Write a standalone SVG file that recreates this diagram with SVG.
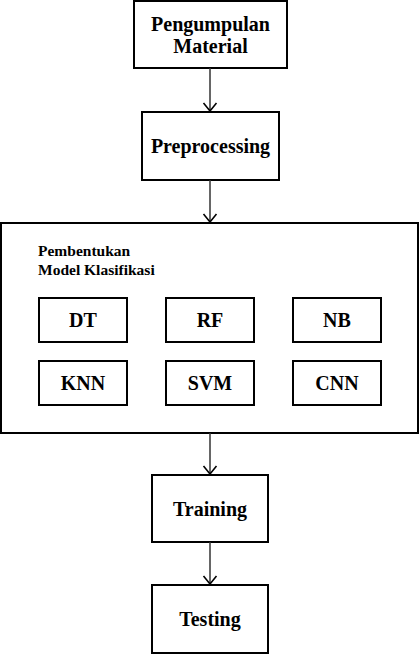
<svg xmlns="http://www.w3.org/2000/svg" width="420" height="654" viewBox="0 0 420 654">
<style>
.b{fill:#fff;stroke:#000;stroke-width:2}
.t{font-family:"Liberation Serif",serif;font-weight:bold;font-size:20px;text-anchor:middle;fill:#000}
.s{font-family:"Liberation Serif",serif;font-weight:bold;font-size:15.5px;fill:#000}
.c{stroke:#333;stroke-width:1.5;fill:none}
</style>
<defs>
<marker id="a" markerWidth="16" markerHeight="16" refX="13" refY="8" orient="auto" markerUnits="userSpaceOnUse" viewBox="0 0 16 16">
<path d="M5,1.5 L13,8 L5,14.5" fill="none" stroke="#000" stroke-width="1.6"/>
</marker>
</defs>
<rect width="420" height="654" fill="#fff"/>
<g id="n1"><rect class="b" x="134" y="1" width="153" height="67"/><text class="t" x="210.5" y="31">Pengumpulan</text><text class="t" x="210.5" y="53">Material</text></g>
<g id="n2"><rect class="b" x="142" y="112" width="137" height="68"/><text class="t" x="210.5" y="153">Preprocessing</text></g>
<g id="n3"><rect class="b" x="1" y="223" width="417" height="210"/><text class="s" x="38" y="256">Pembentukan</text><text class="s" x="38" y="275">Model Klasifikasi</text></g>
<g id="dt"><rect class="b" x="39" y="298" width="88" height="44"/><text class="t" x="83" y="327">DT</text></g>
<g id="rf"><rect class="b" x="166" y="298" width="88" height="44"/><text class="t" x="210" y="327">RF</text></g>
<g id="nb"><rect class="b" x="293" y="298" width="88" height="44"/><text class="t" x="337" y="327">NB</text></g>
<g id="knn"><rect class="b" x="39" y="361" width="88" height="44"/><text class="t" x="83" y="390">KNN</text></g>
<g id="svm"><rect class="b" x="166" y="361" width="88" height="44"/><text class="t" x="210" y="390">SVM</text></g>
<g id="cnn"><rect class="b" x="293" y="361" width="88" height="44"/><text class="t" x="337" y="390">CNN</text></g>
<g id="n4"><rect class="b" x="152" y="475" width="116" height="67"/><text class="t" x="210" y="516">Training</text></g>
<g id="n5"><rect class="b" x="152" y="585" width="116" height="68"/><text class="t" x="210" y="626">Testing</text></g>
<g id="connectors">
<line class="c" x1="210" y1="68" x2="210" y2="111" marker-end="url(#a)"/>
<line class="c" x1="210" y1="180" x2="210" y2="222" marker-end="url(#a)"/>
<line class="c" x1="210" y1="433" x2="210" y2="474" marker-end="url(#a)"/>
<line class="c" x1="210" y1="542" x2="210" y2="584" marker-end="url(#a)"/>
</g>
</svg>
